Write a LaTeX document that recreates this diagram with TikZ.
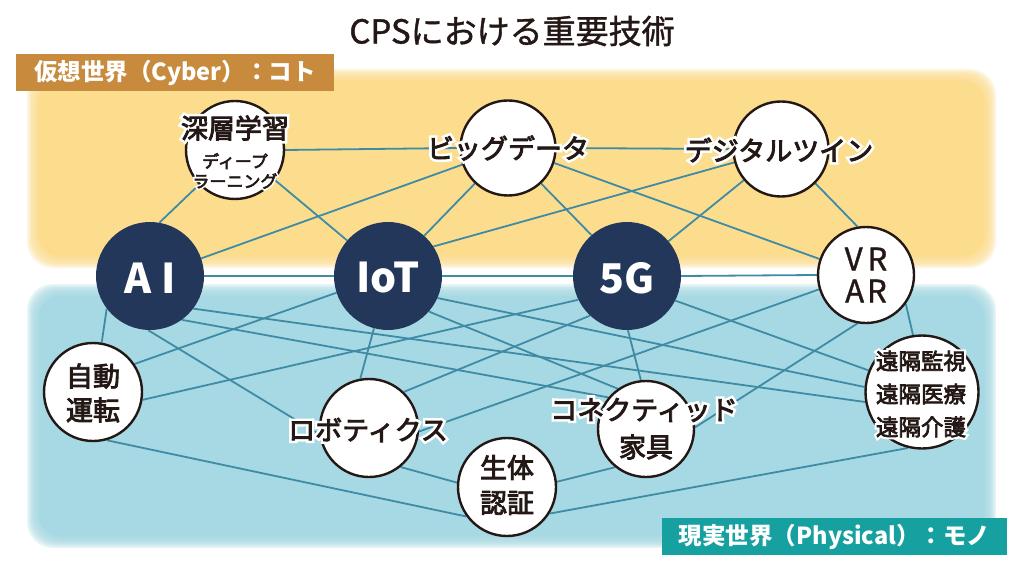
\documentclass[tikz,border=0pt]{standalone}
\usepackage{fontspec}
\setmainfont{Noto Sans CJK JP}
\newfontfamily\jpm{Noto Sans CJK JP}[FakeBold=3.2]
\newfontfamily\jpt{Noto Sans CJK JP}[FakeBold=1.2]
\newfontfamily\jphalo{Noto Sans CJK JP}[FakeBold=22]
\definecolor{txt}{HTML}{231815}
\definecolor{navy}{HTML}{23375B}
\definecolor{edgec}{HTML}{3F8BA5}
\definecolor{yellowbg}{HTML}{FCDD8E}
\definecolor{bluebg}{HTML}{A6D9E3}
\definecolor{cyberc}{HTML}{C88B3E}
\definecolor{physc}{HTML}{17A0A0}
\pgfdeclarelayer{bg}
\pgfdeclarelayer{edges}
\pgfsetlayers{bg,edges,main}
\newcommand\myhalo[1]{\leavevmode\rlap{\textcolor{white}{\jphalo #1}}#1}
\newcommand\softbox[5]{%
  \foreach \i in {0,...,7}{\fill[#1, opacity=0.25, rounded corners=26pt] ({#2-6+1.5*\i},{#3-6+1.5*\i}) rectangle ({#4+6-1.5*\i},{#5+6-1.5*\i});}
  \fill[#1, rounded corners=20pt] ({#2+6},{#3+6}) rectangle ({#4-6},{#5-6});}
\tikzset{
  wnode/.style={circle, draw=txt, line width=2.4pt, fill=white, inner sep=0pt},
  dnode/.style={circle, fill=navy, inner sep=0pt},
  edge/.style={draw=edgec, line width=1.8pt},
  lbl/.style={text=txt, font=\jpm\fontsize{27}{34}\selectfont, align=center, inner sep=0pt},
  dlbl/.style={text=white, font=\bfseries\fontsize{41}{41}\selectfont, inner sep=0pt},
  hdr/.style={text=white, font=\bfseries\fontsize{23.5}{25}\selectfont, inner sep=0pt}
}
\begin{document}
\begin{tikzpicture}[x=1pt, y=-1pt]
\useasboundingbox (0,0) rectangle (1024,569);
\begin{pgfonlayer}{bg}
  \fill[white] (0,0) rectangle (1024,569);
  \softbox{yellowbg}{33}{75}{990}{262}
  \softbox{bluebg}{33}{290}{990}{542}
\end{pgfonlayer}

\node[text=txt, font=\jpt\fontsize{33}{33}\selectfont, inner sep=0pt] (title) at (512,31) {CPSにおける重要技術};
\node[hdr, fill=cyberc, minimum width=318pt, minimum height=37pt] (cyber) at (175,72.5) {仮想世界（Cyber）：コト};
\node[hdr, fill=physc, minimum width=345pt, minimum height=37pt] (phys) at (834.5,536.5) {現実世界（Physical）：モノ};

\node[wnode, minimum size=98pt] (DL) at (235,150) {};
\node[wnode, minimum size=95pt] (BD) at (508,148) {};
\node[wnode, minimum size=95pt] (DT) at (781,149) {};
\node[dnode, minimum size=108pt] (AI) at (150,276) {};
\node[dnode, minimum size=108pt] (IoT) at (388,276) {};
\node[dnode, minimum size=108pt] (G5) at (627,276) {};
\node[wnode, minimum size=96pt] (VR) at (866,275) {};
\node[wnode, minimum size=98pt] (AD) at (93,392) {};
\node[wnode, minimum size=98pt] (RB) at (369,428) {};
\node[wnode, minimum size=98pt] (BIO) at (507,487) {};
\node[wnode, minimum size=96pt] (CF) at (646,429) {};
\node[wnode, minimum size=113pt] (RM) at (922,392) {};

\begin{pgfonlayer}{edges}
\foreach \p/\q in {DL.0/BD.180, BD.0/DT.180, DL.224/AI.80, DL.-37/IoT.139, AI.19/BD.200,
  IoT.48/BD.227, BD.-47/G5.131, BD.-18/VR.161, IoT.33/DT.196, G5.40/DT.220, DT.-45/VR.100,
  AI.0/IoT.180, IoT.0/G5.180, G5.0/VR.180, AI.217/AD.80, AI.268/RB.187, AI.-37/RM.190,
  AI.-54/CF.140, IoT.198/AD.34, IoT.255/RB.100, IoT.-24/RM.175, IoT.-41/CF.125,
  G5.206/AD.-9, G5.227/RB.46, G5.-89/CF.96, G5.-27/RM.158, VR.-36/RM.99, VR.197/RB.-4,
  VR.260/CF.2, AD.-74/BIO.216, RB.-51/BIO.175, CF.231/BIO.6, RM.256/BIO.-32}
  \draw[edge] (\p) -- (\q);
\end{pgfonlayer}

\node[lbl] (DL-t) at (235,128) {\myhalo{深層学習}};
\node[lbl, font=\jpm\fontsize{17}{20}\selectfont] (DL-s) at (235,171) {\myhalo{ディープ}\\\myhalo{ラーニング}};
\node[lbl] (BD-t) at (508,148) {\myhalo{ビッグデータ}};
\node[lbl] (DT-t) at (779,150) {\myhalo{デジタルツイン}};
\node[dlbl] (AI-t) at (150,278) {A\kern10pt I};
\node[dlbl] (IoT-t) at (388,278) {IoT};
\node[dlbl] (G5-t) at (627,278) {5G};
\node[text=txt, font=\jpt\fontsize{31}{32}\selectfont, align=center, inner sep=0pt] (VR-t) at (866,275) {V\kern5pt R\\A\kern3pt R};
\node[lbl] (AD-t) at (93,393) {自動\\運転};
\node[lbl] (RB-t) at (368,430) {\myhalo{ロボティクス}};
\node[lbl, font=\jpm\fontsize{27}{35}\selectfont] (BIO-t) at (507,485) {生体\\認証};
\node[lbl] (CF-t) at (644,410) {\myhalo{コネクティッド}};
\node[lbl] (CF-s) at (646,447) {家具};
\node[lbl, font=\jpm\fontsize{22.5}{33}\selectfont] (RM-t) at (921,394) {\myhalo{遠隔監視}\\\myhalo{遠隔医療}\\\myhalo{遠隔介護}};
\end{tikzpicture}
\end{document}
